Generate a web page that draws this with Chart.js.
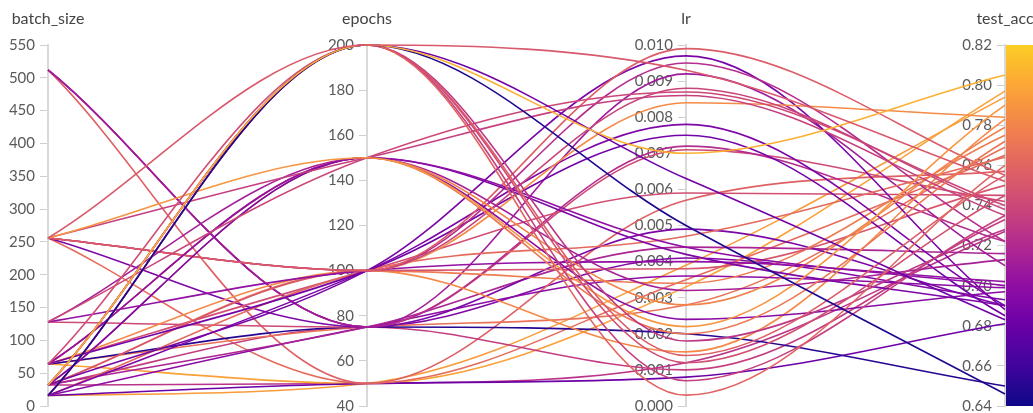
<!DOCTYPE html>
<html>
<head>
<meta charset="utf-8">
<script src="https://cdn.jsdelivr.net/npm/chart.js@4.4.1/dist/chart.umd.min.js"></script>
<style>
  html, body { margin: 0; padding: 0; background: #fff; }
  #wrap { width: 1033px; height: 413px; }
</style>
</head>
<body>
<div id="wrap"><canvas id="chart"></canvas></div>
<script>
// axes of the parallel coordinates plot
const axes = ['batch_size', 'epochs', 'lr', 'test_acc'];
const axisMin = [0, 40, 0, 0.64];
const axisMax = [550, 200, 0.01, 0.82];
const axisStep = [50, 20, 0.001, 0.02];
const axisDigits = [0, 0, 3, 2];

// one entry per run
const batchSize = [256, 32, 16, 32, 32, 16, 64, 32, 16,
  256, 256, 128, 64, 32, 64, 32, 128, 64,
  256, 256, 256, 256, 32, 16, 64, 128, 32, 64, 32, 16, 64,
  512, 512, 256, 128, 64, 32, 16, 64, 32,
  512, 256, 16, 64, 16, 32, 512];
const epochs = [200, 200, 200, 200, 200, 200, 200, 200, 200,
  150, 150, 150, 150, 150, 150, 150, 150, 150,
  100, 100, 100, 100, 100, 100, 100, 100, 100, 100, 100, 100, 100,
  75, 75, 75, 75, 75, 75, 75, 75, 75,
  50, 50, 50, 50, 50, 50, 75];
const lr = [0.0093, 0.0070, 0.0050, 0.0063, 0.0003, 0.0007, 0.0012, 0.0014, 0.0018,
  0.0022, 0.0086, 0.0087, 0.0044, 0.0042, 0.0028, 0.0020, 0.0032, 0.0024,
  0.0099, 0.0095, 0.0088, 0.0084, 0.0097, 0.0078, 0.0075, 0.0040, 0.0038, 0.0015, 0.0034, 0.0047, 0.0059,
  0.0092, 0.0072, 0.0049, 0.0071, 0.0020, 0.0044, 0.0036, 0.0028, 0.0010,
  0.0057, 0.0035, 0.0008, 0.0033, 0.0039, 0.0012, 0.0041];
const testAcc = [0.752, 0.805, 0.646, 0.683, 0.760, 0.735, 0.745, 0.755, 0.728,
  0.790, 0.735, 0.740, 0.700, 0.690, 0.779, 0.772, 0.713, 0.697,
  0.755, 0.722, 0.738, 0.784, 0.688, 0.690, 0.685, 0.702, 0.750, 0.783, 0.775, 0.764, 0.745,
  0.710, 0.722, 0.690, 0.742, 0.650, 0.716, 0.699, 0.769, 0.733,
  0.757, 0.765, 0.681, 0.797, 0.794, 0.727, 0.693];

// plasma colormap, sampled
const plasma = ['#0d0887', '#41049d', '#6a00a8', '#8f0da4', '#b12a90',
  '#cc4778', '#e16462', '#f2844b', '#fca636', '#fcce25', '#f0f921'];

function hexToRgb(h) {
  return [parseInt(h.slice(1, 3), 16), parseInt(h.slice(3, 5), 16), parseInt(h.slice(5, 7), 16)];
}
function plasmaAt(t) {
  t = Math.max(0, Math.min(1, t)) * (plasma.length - 1);
  const i = Math.min(Math.floor(t), plasma.length - 2);
  const f = t - i;
  const a = hexToRgb(plasma[i]), b = hexToRgb(plasma[i + 1]);
  const c = a.map((v, k) => Math.round(v + (b[k] - v) * f));
  return `rgb(${c[0]},${c[1]},${c[2]})`;
}
// colour range covers plasma 0..0.9
const accColor = v => plasmaAt((v - axisMin[3]) / (axisMax[3] - axisMin[3]) * 0.9);

const datasets = testAcc.map((acc, i) => {
  const vals = [batchSize[i], epochs[i], lr[i], acc];
  return {
    data: vals.map((v, k) => (v - axisMin[k]) / (axisMax[k] - axisMin[k])),
    yAxisID: 'yn',
    borderColor: accColor(acc),
    borderWidth: 1.6,
    pointRadius: 0,
    cubicInterpolationMode: 'monotone',
    fill: false,
    clip: false
  };
});

const noPad = s => { s.paddingTop = 0; s.paddingBottom = 0; s.paddingLeft = 0; s.paddingRight = 0; };
const labelShift = 13 / 319; // label gap left of each axis, in category units

const scales = {
  x: {
    type: 'category',
    position: 'top',
    offset: false,
    grid: { display: false, drawTicks: false },
    border: { display: false },
    ticks: { color: '#444', font: { family: 'Lato', size: 16 }, padding: 17, autoSkip: false, maxRotation: 0 },
    afterFit(s) { s.height = 38; noPad(s); }
  },
  yn: { type: 'linear', axis: 'y', display: false, min: 0, max: 1, afterFit: noPad }
};
axes.forEach((name, k) => {
  // axis line + tick marks
  scales['a' + k] = {
    type: 'linear',
    axis: 'y',
    position: { x: k },
    min: axisMin[k],
    max: axisMax[k],
    grid: { drawOnChartArea: false, color: '#cfcfcf', tickLength: 7 },
    border: { color: '#d9d9d9', width: 2 },
    ticks: { stepSize: axisStep[k], autoSkip: false, display: false },
    afterFit: noPad
  };
  // tick labels
  scales['l' + k] = {
    type: 'linear',
    axis: 'y',
    position: { x: k - labelShift },
    min: axisMin[k],
    max: axisMax[k],
    grid: { display: false },
    border: { display: false },
    ticks: {
      stepSize: axisStep[k],
      autoSkip: false,
      color: '#5a5a5a',
      font: { family: 'Lato', size: 15 },
      callback: v => Number(v).toFixed(axisDigits[k])
    },
    afterFit: noPad
  };
});

// colour bar next to the test_acc axis
const colorbar = {
  id: 'colorbar',
  afterDatasetsDraw(chart) {
    const s = chart.scales.a3;
    const x = chart.scales.x.getPixelForValue(3) + 1;
    const top = s.getPixelForValue(axisMax[3]);
    const bottom = s.getPixelForValue(axisMin[3]);
    const ctx = chart.ctx;
    const g = ctx.createLinearGradient(0, bottom, 0, top);
    for (let k = 0; k <= 20; k++) g.addColorStop(k / 20, plasmaAt(k / 20 * 0.9));
    ctx.save();
    ctx.fillStyle = g;
    ctx.fillRect(x, top, chart.width - x, bottom - top);
    ctx.restore();
  }
};

new Chart(document.getElementById('chart'), {
  type: 'line',
  data: { labels: axes, datasets },
  options: {
    responsive: true,
    maintainAspectRatio: false,
    animation: false,
    events: [],
    layout: { padding: { left: 48, right: 28, top: 7, bottom: 7 } },
    plugins: { legend: { display: false }, tooltip: { enabled: false } },
    scales
  },
  plugins: [colorbar]
});
</script>
</body>
</html>
